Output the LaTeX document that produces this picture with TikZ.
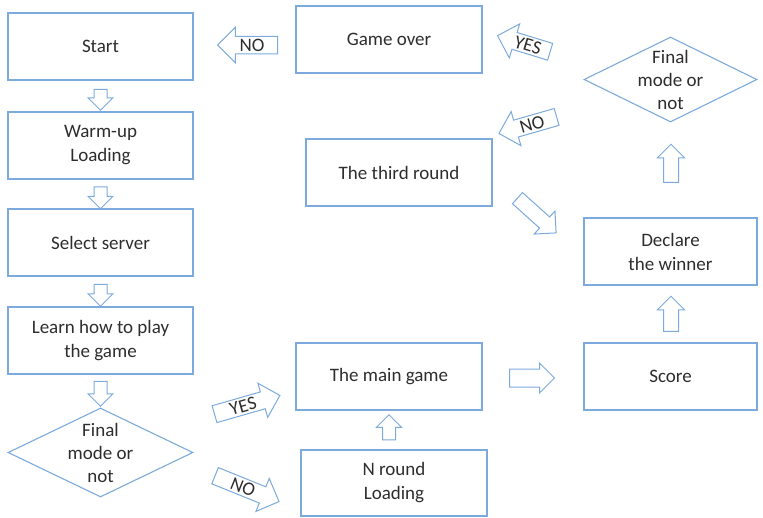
\documentclass[tikz,border=0pt]{standalone}
\usepackage{fontspec}
\setmainfont{Carlito}
\usetikzlibrary{shapes.geometric,shapes.arrows}
\definecolor{edge}{RGB}{125,170,220}
\definecolor{ink}{RGB}{45,45,45}
\begin{document}
\begin{tikzpicture}[x=1pt,y=-1pt,
  box/.style={draw=edge,line width=1.1pt,minimum width=185pt,minimum height=67pt,align=center,font=\fontsize{19}{24}\selectfont,text=ink,inner sep=0pt},
  dia/.style={diamond,draw=edge,line width=1.1pt,inner sep=0pt,aspect=2.08},
  diatext/.style={align=center,font=\fontsize{19}{23}\selectfont,text=ink,inner sep=0pt},
  barrow/.style={single arrow,draw=edge,line width=1pt,inner xsep=0pt,inner ysep=6pt,text height=0pt,text depth=0pt,single arrow head extend=6pt,single arrow head indent=0pt},
  labarrow/.style={single arrow,draw=edge,line width=1pt,font=\fontsize{19}{19}\selectfont,text=ink,text height=12.5pt,text depth=0pt,inner xsep=1pt,inner ysep=2pt,single arrow head extend=9pt,single arrow head indent=0pt}]
\useasboundingbox (0,0) rectangle (763,517);

% left column
\node[box] (start) at (100.5,46.5) {Start};
\node[box] (warm) at (100.5,145.5) {Warm-up\\Loading};
\node[box] (select) at (100.5,242.5) {Select server};
\node[box] (learn) at (100.5,340.5) {Learn how to play\\the game};
\node[dia,minimum width=185pt,minimum height=89pt] (dl) at (100.5,452.5) {};
\node[diatext] (dlt) at (dl.center) {Final\\mode or\\not};

% middle
\node[box,minimum width=186pt] (over) at (389,39.5) {Game over};
\node[box,minimum width=186pt] (third) at (399,172.5) {The third round};
\node[box,minimum width=186pt] (main) at (389,376.5) {The main game};
\node[box,minimum width=186pt,minimum height=66pt] (nround) at (394,483) {N round\\Loading};

% right
\node[dia,minimum width=173pt,minimum height=85pt] (dr) at (670.5,79.5) {};
\node[diatext] (drt) at (dr.center) {Final\\mode or\\not};
\node[box,minimum width=173pt] (declare) at (670.5,251.5) {Declare\\the winner};
\node[box,minimum width=173pt] (score) at (670.5,376.5) {Score};

% plain block arrows
\node[barrow,minimum height=21pt,rotate=-90] (a1) at (100.5,96.5) {};
\node[barrow,minimum height=22pt,rotate=-90] (a2) at (100.5,194.5) {};
\node[barrow,minimum height=22pt,rotate=-90] (a3) at (100.5,292) {};
\node[barrow,minimum height=25pt,rotate=-90] (a4) at (100.5,390.5) {};
\node[barrow,minimum height=25pt,rotate=90] (a5) at (389,430.5) {};
\node[barrow,minimum height=45pt,inner ysep=8.5pt,single arrow head extend=6pt] (a6) at (527.5,378) {};
\node[barrow,minimum height=35pt,inner ysep=7pt,single arrow head extend=6pt,rotate=90] (a7) at (671,317.5) {};
\node[barrow,minimum height=38pt,inner ysep=7pt,single arrow head extend=6pt,rotate=90] (a8) at (671,167) {};
\node[barrow,minimum height=52pt,inner ysep=7pt,single arrow head extend=8pt,rotate=-42] (a9) at (534,213) {};

% labelled block arrows
\node[labarrow,minimum height=60pt,shape border rotate=180] (no1) at (252,45) {NO};
\node[labarrow,minimum height=55pt,shape border rotate=180,rotate=-17] (yes1) at (528,45) {YES};
\node[labarrow,minimum height=60pt,shape border rotate=180,rotate=16] (no2) at (532,124) {NO};
\node[labarrow,minimum height=68pt,rotate=16] (yes2) at (243,406) {YES};
\node[labarrow,minimum height=69pt,rotate=-22] (no3) at (243,487) {NO};
\end{tikzpicture}
\end{document}
